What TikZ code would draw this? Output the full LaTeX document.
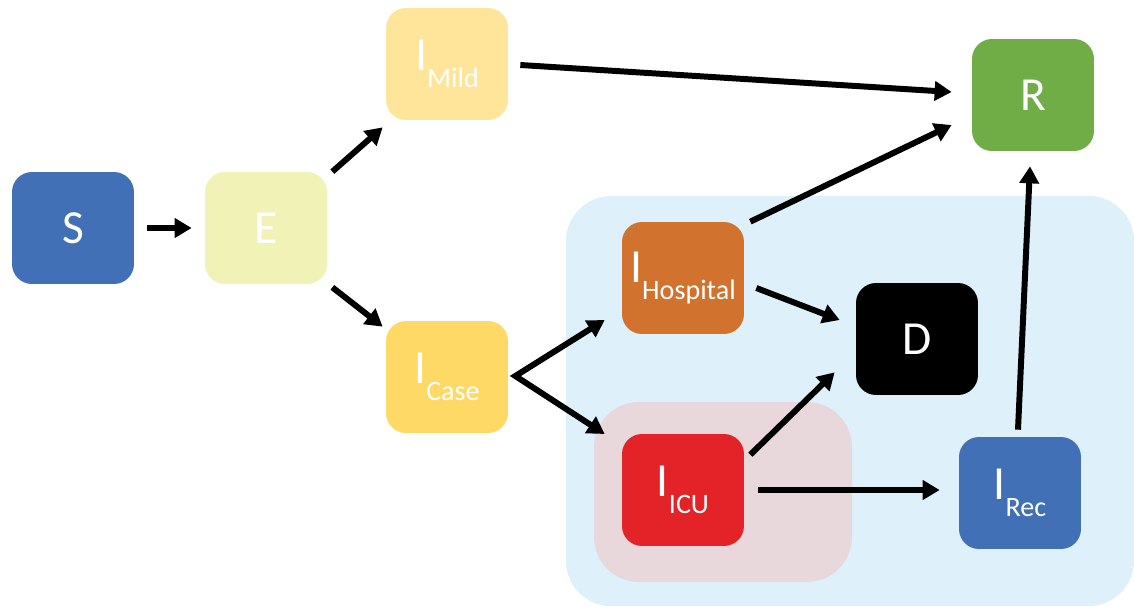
\documentclass[tikz,border=0pt]{standalone}
\usepackage{fontspec}
\setmainfont{Carlito}
\usetikzlibrary{arrows.meta,calc}

\definecolor{sBlue}{HTML}{4170B6}
\definecolor{eYellow}{HTML}{F1F2B5}
\definecolor{mildYellow}{HTML}{FFE599}
\definecolor{caseYellow}{HTML}{FFD966}
\definecolor{hospOrange}{HTML}{D1732F}
\definecolor{icuRed}{HTML}{E42329}
\definecolor{rGreen}{HTML}{70AD47}
\definecolor{careBlue}{HTML}{DEF1FA}
\definecolor{icuPink}{HTML}{E8D8DC}

% compartment label with subscript
\newcommand{\comp}[1]{I\raisebox{-0.36em}{\fontsize{16}{16}\selectfont #1}}

\begin{document}
\begin{tikzpicture}[
x=0.02cm, y=-0.02cm,
box/.style={
	rounded corners=0.4cm,
	minimum width=2.44cm,
	minimum height=2.24cm,
	text=white,
	font=\fontsize{27}{27}\selectfont,
	inner sep=0pt,
},
flow/.style={
	line width=3.4pt,
	-{Triangle[length=0.34cm,width=0.38cm]},
},
]
\useasboundingbox (0,0) rectangle (1134,606);

% care settings
\fill[careBlue, rounded corners=0.9cm] (566,196) rectangle (1134,606);
\fill[icuPink, rounded corners=0.9cm] (594,402) rectangle (852,582);

% compartments
\node[box, fill=sBlue] (S) at (73,228) {S};
\node[box, fill=eYellow] (E) at (266,228) {E};
\node[box, fill=mildYellow] (IMild) at (447,64) {\comp{Mild}};
\node[box, fill=caseYellow] (ICase) at (447,377) {\comp{Case}};
\node[box, fill=hospOrange] (IHosp) at (683,278) {\comp{Hospital}};
\node[box, fill=black] (D) at (917,339) {D};
\node[box, fill=icuRed] (IICU) at (683,490) {\comp{ICU}};
\node[box, fill=sBlue] (IRec) at (1020,493) {\comp{Rec}};
\node[box, fill=rGreen] (R) at (1033,95) {R};

% transitions
\draw[flow] ($(S.east)+(13,0)$) -- ($(E.west)+(-13,0)$);
\draw[flow] ($(E.north east)+(5,0)$) -- ($(IMild.south west)+(-3,7)$);
\draw[flow] ($(E.south east)+(5,3)$) -- ($(ICase.north west)+(-3,6)$);
\draw[flow] ($(IMild.east)+(12,1)$) -- ($(R.west)+(-20,-3)$);
\draw[flow] ($(IHosp.north east)+(6,0)$) -- ($(R.west)+(-20,30)$);
\draw[flow] ($(IHosp.east)+(12,10)$) -- ($(D.west)+(-16,-19)$);

\coordinate (fork) at ($(ICase.east)+(7,-1)$);
\draw[flow, {Triangle[length=0.34cm,width=0.38cm]}-{Triangle[length=0.34cm,width=0.38cm]}]
	($(IHosp.west)+(-17,42)$) -- (fork) -- ($(IICU.west)+(-17,-56)$);

\draw[flow] ($(IICU.north east)+(6,21)$) -- ($(D.south west)+(-21,-23)$);
\draw[flow] ($(IICU.east)+(14,0)$) -- ($(IRec.west)+(-19,-3)$);
\draw[flow] ($(IRec.north)+(-2,-7)$) -- ($(R.south)+(-3,15)$);

\end{tikzpicture}
\end{document}
